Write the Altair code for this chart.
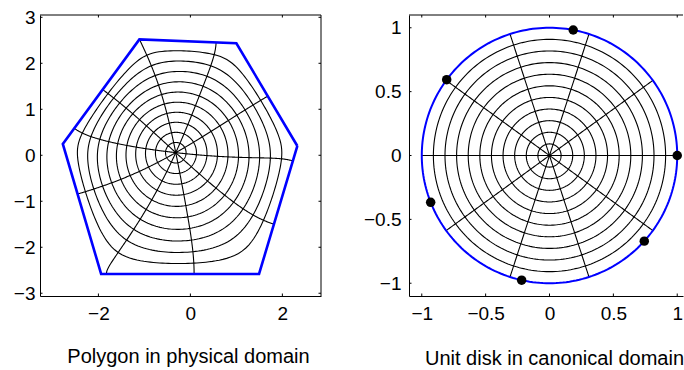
import numpy as np
import pandas as pd
import altair as alt

# ---------------- values ----------------
# polygon vertices in the physical domain (counter-clockwise)
poly_x = [2.326, 1.000, -1.109, -2.774, -1.941, 1.493]
poly_y = [0.202, 2.435, 2.520, 0.246, -2.580, -2.580]
# conformal centre (image of the disk centre)
center_x, center_y = -0.318, 0.057
# prevertex dots drawn on the unit circle (degrees)
dot_angles = [0.0, 79.3, 143.6, 201.5, 257.4, 317.9]
# polar grid of the disk
circle_radii = [0.0909, 0.1818, 0.2727, 0.3636, 0.4545, 0.5455, 0.6364, 0.7273, 0.8182, 0.9091]
radial_angles = [0, 36, 72, 108, 144, 180, 216, 252, 288, 324]
# where some radial lines meet the polygon
end_angles = [0, 36, 72, 144, 180, 216, 252, 288, 324]
end_x = [2.226, 1.696, 0.580, -1.913, -2.528, -2.457, -1.783, 0.065, 1.820]
end_y = [-0.139, 1.261, 2.435, 1.404, 0.550, -0.841, -2.550, -2.550, -1.515]
# axes
left_xticks = [-2, 0, 2]
left_yticks = [-3, -2, -1, 0, 1, 2, 3]
right_ticks = [-1, -0.5, 0, 0.5, 1]

# ---------------- Schwarz-Christoffel disk map ----------------
w = np.array(poly_x) + 1j * np.array(poly_y)
n = len(w)
A = center_x + 1j * center_y
turn = np.angle((np.roll(w, -1) - w) / (w - np.roll(w, 1)))
beta = -turn / np.pi

gx, gw = np.polynomial.legendre.leggauss(24)


def composite(edges):
    ts, ws = [], []
    for a, b in zip(edges[:-1], edges[1:]):
        ts.append((b - a) / 2 * gx + (a + b) / 2)
        ws.append((b - a) / 2 * gw)
    return np.concatenate(ts), np.concatenate(ws)


T, WT = composite([0, 0.5, 0.8, 0.9, 0.95, 0.98, 0.99, 0.995, 0.998, 0.999, 0.9995, 0.9999, 1.0])
U, WU = composite([0, 1e-4, 1e-3, 0.01, 0.05, 0.2, 0.5, 1.0])


def I_int(z, zk):
    z = np.asarray(z, complex).ravel()
    zeta = np.outer(z, T)
    g = np.ones_like(zeta)
    for j in range(n):
        g *= (1 - zeta / zk[j]) ** beta[j]
    return z * (g @ WT)


def I_prev(zk):
    out = np.empty(n, complex)
    for k in range(n):
        p = 1 / (1 + beta[k])
        t = 1 - U ** p
        h = np.full(t.shape, p, complex)
        for j in range(n):
            if j != k:
                h *= (1 - t * zk[k] / zk[j]) ** beta[j]
        out[k] = zk[k] * np.sum(h * WU)
    return out


def unpack(x):
    th = np.concatenate([[0.0], x[:n - 1]])
    return th, x[n - 1] + 1j * x[n]


def residual(x):
    th, C = unpack(x)
    r = A + C * I_prev(np.exp(1j * th)) - w
    return np.concatenate([r.real, r.imag])


def valid(x):
    th, _ = unpack(x)
    return np.all(np.diff(th) > 1e-3) and th[-1] < 2 * np.pi - 1e-3


th0 = np.mod(np.angle(w - A) - np.angle(w[0] - A), 2 * np.pi)
I0 = I_prev(np.exp(1j * th0))
C0 = np.sum(np.conj(I0) * (w - A)) / np.sum(np.abs(I0) ** 2)
x = np.concatenate([th0[1:], [C0.real, C0.imag]])
lam = 1e-3
for _ in range(80):
    r = residual(x)
    J = np.empty((2 * n, len(x)))
    for i in range(len(x)):
        dx = np.zeros_like(x)
        dx[i] = 1e-6
        J[:, i] = (residual(x + dx) - r) / 1e-6
    step = np.linalg.solve(J.T @ J + lam * np.eye(len(x)), -J.T @ r)
    xn = x + step
    if valid(xn) and np.sum(residual(xn) ** 2) < np.sum(r ** 2):
        x = xn
        lam = max(lam * 0.3, 1e-9)
    else:
        lam *= 10
th, C = unpack(x)
zk = np.exp(1j * th)

# orientation of the polar grid, fitted to the radial end points
ends = np.array(end_x) + 1j * np.array(end_y)
best_phi, best_err = 0.0, np.inf
for phi in np.radians(np.arange(-30, 30.01, 0.25)):
    fe = A + C * I_int(np.exp(1j * (np.radians(end_angles) - phi)), zk)
    err = np.sum(np.abs(fe - ends) ** 2)
    if err < best_err:
        best_phi, best_err = phi, err


def fmap(z):
    return A + C * I_int(np.asarray(z) * np.exp(-1j * best_phi), zk)


rows_phys, rows_disk = [], []
cid = 0
psi = np.linspace(0, 2 * np.pi, 241)
for rad in circle_radii:
    zc = rad * np.exp(1j * psi)
    fw = fmap(zc)
    for i in range(len(psi)):
        rows_phys.append((fw[i].real, fw[i].imag, cid, i))
        rows_disk.append((zc[i].real, zc[i].imag, cid, i))
    cid += 1
rr = np.linspace(0, 1, 161)
for ang in radial_angles:
    zr = rr * np.exp(1j * np.radians(ang))
    fw = fmap(zr)
    for i in range(len(rr)):
        rows_phys.append((fw[i].real, fw[i].imag, cid, i))
        rows_disk.append((zr[i].real, zr[i].imag, cid, i))
    cid += 1
grid_phys = pd.DataFrame(rows_phys, columns=["x", "y", "curve", "order"])
grid_disk = pd.DataFrame(rows_disk, columns=["x", "y", "curve", "order"])

poly_df = pd.DataFrame({"x": poly_x + [poly_x[0]], "y": poly_y + [poly_y[0]],
                        "order": list(range(n + 1))})
unit_df = pd.DataFrame({"x": np.cos(psi), "y": np.sin(psi), "order": range(len(psi))})
dots_df = pd.DataFrame({"x": np.cos(np.radians(dot_angles)), "y": np.sin(np.radians(dot_angles))})

# ---------------- chart ----------------
FONT = "Liberation Sans"
W1, H = 281, 281
W2 = 274


def xenc(dom, vals, title, tx, ty):
    return alt.X("x:Q", scale=alt.Scale(domain=dom, nice=False, zero=False),
                 axis=alt.Axis(values=vals, format="~g", ticks=False, tickSize=0, grid=False,
                               domain=True, domainColor="black", domainWidth=1,
                               labelFont=FONT, labelFontSize=19, labelColor="black",
                               labelPadding=8, labelFlush=False, labelOverlap=False,
                               title=title, titleFont=FONT, titleFontSize=20,
                               titleFontWeight="normal", titleColor="black",
                               titleBaseline="alphabetic", titleAlign="center",
                               titleX=tx, titleY=ty))


def yenc(dom, vals, pad):
    return alt.Y("y:Q", scale=alt.Scale(domain=dom, nice=False, zero=False),
                 axis=alt.Axis(values=vals, format="~g", ticks=False, tickSize=0, grid=False,
                               domain=True, domainColor="black", domainWidth=1,
                               labelFont=FONT, labelFontSize=19, labelColor="black",
                               labelPadding=pad, labelFlush=False, labelOverlap=False,
                               title=None))


one = pd.DataFrame({"a": [0]})
TL = 2.5
LW = 1.1

# left panel
XL = xenc([-3.27, 2.84], left_xticks, "Polygon in physical domain", 148, 66)
YL = yenc([-3.06, 3.05], left_yticks, 5)
left = alt.layer(
    alt.Chart(grid_phys).mark_line(color="black", strokeWidth=LW).encode(
        x=XL, y=YL, detail="curve:N", order="order:Q"),
    alt.Chart(poly_df).mark_line(color="#0000ff", strokeWidth=2.6, strokeJoin="miter").encode(
        x=XL, y=YL, order="order:Q"),
    alt.Chart(pd.DataFrame({"x": left_xticks})).mark_rule(color="black").encode(
        x=XL, y=alt.value(H), y2=alt.value(H - TL)),
    alt.Chart(pd.DataFrame({"x": left_xticks})).mark_rule(color="black").encode(
        x=XL, y=alt.value(0), y2=alt.value(TL)),
    alt.Chart(pd.DataFrame({"y": left_yticks})).mark_rule(color="black").encode(
        y=YL, x=alt.value(0), x2=alt.value(TL)),
    alt.Chart(pd.DataFrame({"y": left_yticks})).mark_rule(color="black").encode(
        y=YL, x=alt.value(W1), x2=alt.value(W1 - TL)),
    alt.Chart(one).mark_rule(color="black").encode(x=alt.value(0), x2=alt.value(W1), y=alt.value(0)),
    alt.Chart(one).mark_rule(color="black").encode(y=alt.value(0), y2=alt.value(H), x=alt.value(W1)),
).properties(width=W1, height=H)

# right panel
XR = xenc([-1.1, -1.1 + W2 * 2.2 / H], right_ticks, "Unit disk in canonical domain", 145, 68)
YR = yenc([-1.1, 1.1], right_ticks, 8)
right = alt.layer(
    alt.Chart(grid_disk).mark_line(color="black", strokeWidth=LW).encode(
        x=XR, y=YR, detail="curve:N", order="order:Q"),
    alt.Chart(unit_df).mark_line(color="#0000ff", strokeWidth=2).encode(
        x=XR, y=YR, order="order:Q"),
    alt.Chart(dots_df).mark_circle(color="black", size=90, opacity=1).encode(x=XR, y=YR),
    alt.Chart(pd.DataFrame({"x": right_ticks})).mark_rule(color="black").encode(
        x=XR, y=alt.value(H), y2=alt.value(H - TL)),
    alt.Chart(pd.DataFrame({"x": right_ticks})).mark_rule(color="black").encode(
        x=XR, y=alt.value(0), y2=alt.value(TL)),
    alt.Chart(pd.DataFrame({"y": right_ticks})).mark_rule(color="black").encode(
        y=YR, x=alt.value(0), x2=alt.value(TL)),
    alt.Chart(one).mark_rule(color="black").encode(x=alt.value(0), x2=alt.value(W2), y=alt.value(0)),
).properties(width=W2, height=H)

chart = alt.hconcat(left, right, spacing=88, bounds="flush").properties(
    padding={"left": 13, "top": 8, "right": 0, "bottom": 0}
).configure_view(stroke=None)

chart.save("out.html", embed_options={"renderer": "svg", "actions": False})
